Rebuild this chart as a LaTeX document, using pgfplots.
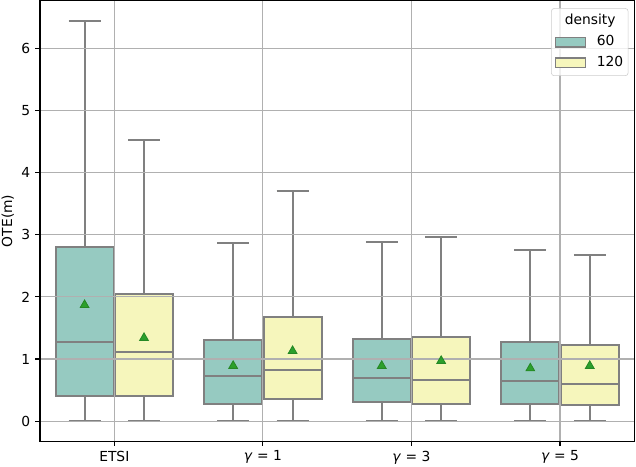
\documentclass[border=0pt]{standalone}
\usepackage{pgfplots}
\pgfplotsset{compat=1.18}
\usepgfplotslibrary{statistics}
\usepackage{fontspec}
\setmainfont{DejaVu Sans}
\definecolor{c60}{HTML}{96CAC1}
\definecolor{c120}{HTML}{F6F6BC}
\definecolor{boxgray}{HTML}{808080}
\definecolor{meangreen}{HTML}{2CA02C}
\definecolor{gridgray}{HTML}{B0B0B0}
\definecolor{legframe}{HTML}{CCCCCC}

\begin{document}
\begin{tikzpicture}
\begin{axis}[
  scale only axis,
  width=427.9bp, height=317.2bp,
  xmin=-0.5, xmax=3.5,
  ymin=-0.3225, ymax=6.7725,
  xtick={0,1,2,3},
  xticklabels={ETSI, \textit{γ} = 1, \textit{γ} = 3, \textit{γ} = 5},
  ytick={0,1,2,3,4,5,6},
  ylabel={OTE(m)},
  ylabel style={yshift=-1.5bp},
  grid=major,
  major grid style={draw=gridgray, line width=0.8bp},
  axis line style={line width=0.8bp},
  tick align=outside, tick pos=left,
  major tick length=3.5bp,
  every tick/.style={black, line width=0.8bp},
  /pgf/number format/assume math mode=true,
  axis on top,
  boxplot/draw direction=y,
  boxplot/box extend=0.39,
  boxplot/whisker extend=0.215,
  legend image code/.code={\draw[#1, draw=boxgray, line width=1bp, sharp corners, fill opacity=1, draw opacity=1] (0bp,-3.5bp) rectangle (21.6bp,3.5bp);},
  legend cell align=left,
  legend style={at={(1,1)}, anchor=north east, xshift=-4.3bp, yshift=-5.5bp,
    draw=legframe, fill=white, fill opacity=0.8, text opacity=1,
    rounded corners=2bp, inner xsep=2.5bp, inner ysep=3.3bp,
    column sep=6.6bp, row sep=3.2bp,
    nodes={inner sep=1bp, text height=7.5bp, text depth=2.3bp}},
  every axis plot/.append style={line join=miter, line cap=butt},
]
% ETSI
\addplot[forget plot, boxplot prepared={draw position=-0.2, lower whisker=0, lower quartile=0.41, median=1.27, upper quartile=2.81, upper whisker=6.44}, fill=c60, draw=boxgray, line width=1.45bp] coordinates {};
\addplot[forget plot, boxplot prepared={draw position=0.2, lower whisker=0, lower quartile=0.41, median=1.11, upper quartile=2.04, upper whisker=4.52}, fill=c120, draw=boxgray, line width=1.45bp] coordinates {};
% gamma = 1
\addplot[forget plot, boxplot prepared={draw position=0.8, lower whisker=0, lower quartile=0.28, median=0.72, upper quartile=1.31, upper whisker=2.87}, fill=c60, draw=boxgray, line width=1.45bp] coordinates {};
\addplot[forget plot, boxplot prepared={draw position=1.2, lower whisker=0, lower quartile=0.35, median=0.82, upper quartile=1.68, upper whisker=3.71}, fill=c120, draw=boxgray, line width=1.45bp] coordinates {};
% gamma = 3
\addplot[forget plot, boxplot prepared={draw position=1.8, lower whisker=0, lower quartile=0.31, median=0.69, upper quartile=1.33, upper whisker=2.88}, fill=c60, draw=boxgray, line width=1.45bp] coordinates {};
\addplot[forget plot, boxplot prepared={draw position=2.2, lower whisker=0, lower quartile=0.28, median=0.66, upper quartile=1.36, upper whisker=2.97}, fill=c120, draw=boxgray, line width=1.45bp] coordinates {};
% gamma = 5
\addplot[forget plot, boxplot prepared={draw position=2.8, lower whisker=0, lower quartile=0.28, median=0.64, upper quartile=1.27, upper whisker=2.76}, fill=c60, draw=boxgray, line width=1.45bp] coordinates {};
\addplot[forget plot, boxplot prepared={draw position=3.2, lower whisker=0, lower quartile=0.26, median=0.60, upper quartile=1.23, upper whisker=2.68}, fill=c120, draw=boxgray, line width=1.45bp] coordinates {};
% means
\addplot[forget plot, only marks, mark=triangle*, mark size=3.6bp,
  mark options={fill=meangreen, draw=meangreen!85!black, line width=0.6bp}]
  coordinates {(-0.2,1.87) (0.2,1.34) (0.8,0.89) (1.2,1.13) (1.8,0.89) (2.2,0.97) (2.8,0.85) (3.2,0.89)};
\addlegendimage{empty legend}\addlegendentry{\hspace{-23bp}density}
\addlegendimage{fill=c60}\addlegendentry{60}
\addlegendimage{fill=c120}\addlegendentry{120}
\coordinate (ll) at (rel axis cs:0,0);
\coordinate (ur) at (rel axis cs:1,1);
\end{axis}
\pgfresetboundingbox
\useasboundingbox ([xshift=-28.8bp, yshift=-18bp]ll) rectangle ([xshift=1.2bp, yshift=0.4bp]ur);
\end{tikzpicture}
\end{document}
